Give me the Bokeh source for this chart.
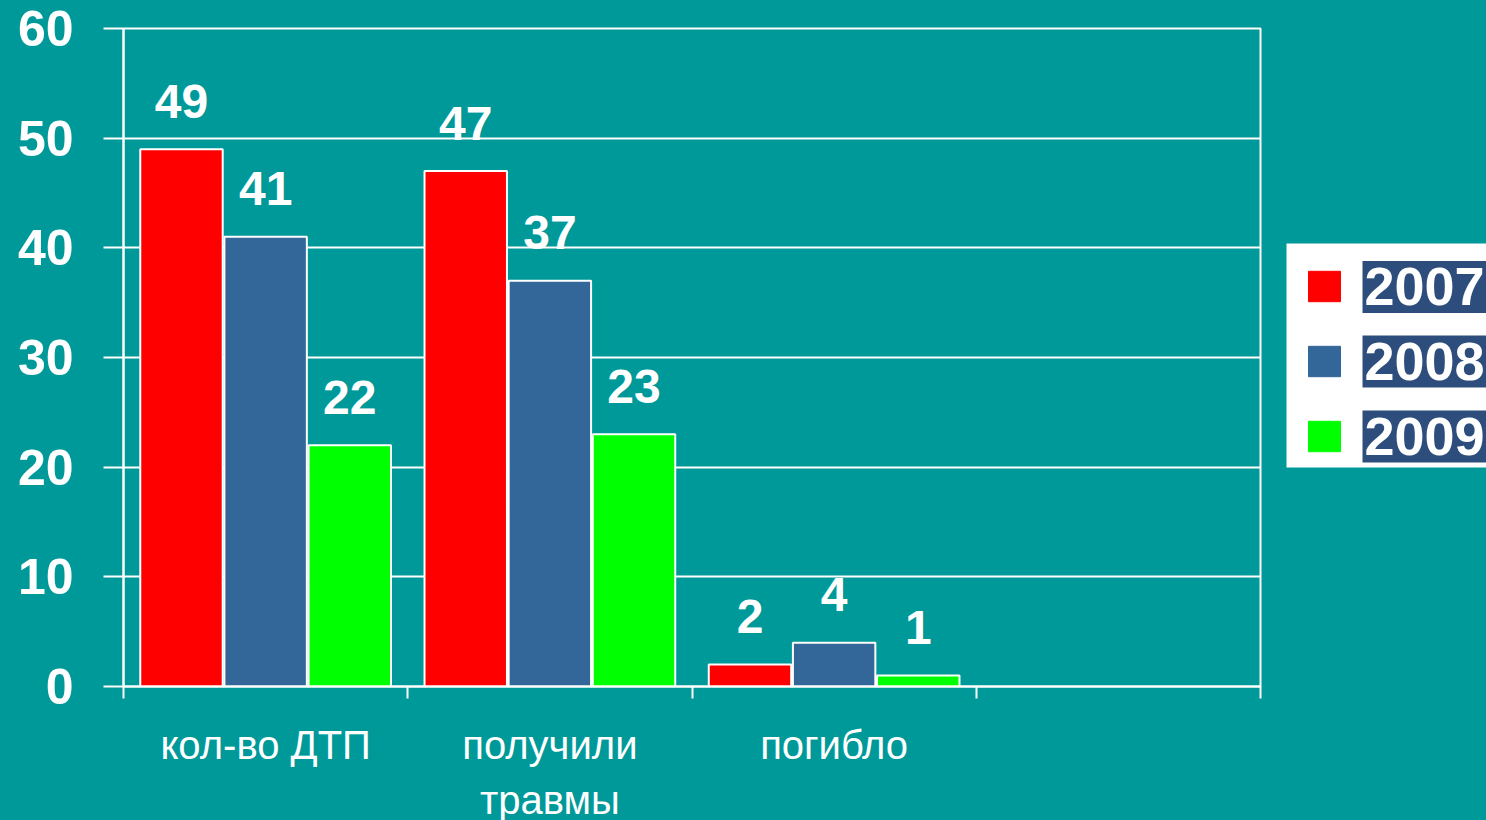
from bokeh.plotting import figure
from bokeh.layouts import row
from bokeh.models import (FixedTicker, ColumnDataSource, Legend, LegendItem, Label,
                          BoxAnnotation, GlobalInlineStyleSheet, Range1d)
from bokeh.core.properties import value
from bokeh.embed import file_html
from bokeh.resources import INLINE

# ---- data ----
categories = ["кол-во ДТП", "получили\nтравмы", "погибло", ""]
years = ["2007", "2008", "2009"]
v2007 = [49, 47, 2]
v2008 = [41, 37, 4]
v2009 = [22, 23, 1]
y_ticks = [0, 10, 20, 30, 40, 50, 60]
colors = ["#FF0000", "#336699", "#00FF00"]

BG = "#009999"
FONT = "Liberation Sans"

p = figure(frame_width=1137, frame_height=658, output_backend="svg", toolbar_location=None,
           x_range=Range1d(0, len(categories)), y_range=Range1d(0, 60),
           min_border_left=123, min_border_right=2, min_border_top=28, min_border_bottom=0,
           background_fill_color=BG, border_fill_color=BG,
           outline_line_color="white", outline_line_width=2)
p.stylesheets = [GlobalInlineStyleSheet(css="html,body{margin:0;padding:0;background:#009999;overflow:hidden;}")]

offsets = [-0.296, 0.0, 0.296]
bar_w = 0.29
series = [v2007, v2008, v2009]
sources = []
for vals, off, col in zip(series, offsets, colors):
    xs = [i + 0.5 + off for i in range(len(vals))]
    src = ColumnDataSource(dict(x=xs, top=vals, lab=[str(v) for v in vals]))
    sources.append(src)
    p.vbar(x="x", top="top", width=bar_w, bottom=0, source=src,
           fill_color=col, line_color="white", line_width=2)
    p.text(x="x", y="top", text="lab", source=src, text_color="white",
           text_font=value(FONT), text_font_style="bold", text_font_size="48px",
           text_align="center", text_baseline="middle", y_offset=-48)

# x axis
xa = p.xaxis[0]
xa.ticker = FixedTicker(ticks=[i + 0.5 for i in range(len(categories))],
                        minor_ticks=list(range(len(categories) + 1)))
xa.major_label_overrides = {i + 0.5: c for i, c in enumerate(categories)}
xa.major_tick_line_color = None
xa.major_tick_out = 0
xa.major_tick_in = 0
xa.minor_tick_line_color = "white"
xa.minor_tick_line_width = 2
xa.minor_tick_out = 12
xa.minor_tick_in = 0
xa.axis_line_color = "white"
xa.axis_line_width = 2
xa.major_label_text_color = "white"
xa.major_label_text_font = FONT
xa.major_label_text_font_size = "40px"
xa.major_label_text_line_height = 1.25
xa.major_label_standoff = 24

# y axis
ya = p.yaxis[0]
ya.ticker = FixedTicker(ticks=y_ticks, minor_ticks=[])
ya.major_tick_out = 20
ya.major_tick_in = 0
ya.major_tick_line_color = "white"
ya.major_tick_line_width = 2
ya.minor_tick_line_color = None
ya.axis_line_color = "white"
ya.axis_line_width = 2
ya.major_label_text_color = "white"
ya.major_label_text_font = FONT
ya.major_label_text_font_style = "bold"
ya.major_label_text_font_size = "50px"
ya.major_label_standoff = 30

p.xgrid.grid_line_color = None
p.ygrid.grid_line_color = "white"
p.ygrid.grid_line_width = 2

# legend panel (frame aligned with the main frame)
p2 = figure(frame_width=224, frame_height=658, output_backend="svg", toolbar_location=None,
            x_range=Range1d(-11, -10), y_range=p.y_range,
            x_axis_location=None, y_axis_location=None,
            min_border_left=0, min_border_right=0, min_border_top=28, min_border_bottom=0,
            background_fill_color=BG, border_fill_color=BG, outline_line_color=None)
p2.grid.visible = False
swatches = []
for src, col in zip(sources, colors):
    # same series, outside this panel's visible range: only used for the legend swatches
    swatches.append(p2.vbar(x="x", top="top", width=bar_w, source=src,
                            fill_color=col, line_color=col))

# white legend box
p2.add_layout(BoxAnnotation(left=24, right=300, bottom=219, top=443,
                            left_units="screen", right_units="screen",
                            bottom_units="screen", top_units="screen",
                            fill_color="white", fill_alpha=1, line_color=None))

for yr, yc in zip(years, [399.5, 325, 250]):
    p2.add_layout(Label(x=100, y=yc, x_units="screen", y_units="screen", text=yr,
                        text_color="white", text_font=FONT, text_font_style="bold",
                        text_font_size="54px", text_baseline="middle", text_align="left",
                        background_fill_color="#2D4E7D",
                        padding=dict(left=2, right=30, top=7, bottom=8)))

legend = Legend(items=[LegendItem(label=value(" "), renderers=[r]) for r in swatches],
                location=(24, 213), orientation="vertical",
                background_fill_alpha=0, border_line_color="white", border_line_alpha=0,
                padding=18, spacing=37, margin=0,
                glyph_width=40, glyph_height=38, label_width=20, label_height=38,
                label_text_font_size="10px", label_standoff=4)
p2.add_layout(legend)

layout = row(p, p2, spacing=0)
open("out.html", "w").write(file_html(layout, INLINE))
